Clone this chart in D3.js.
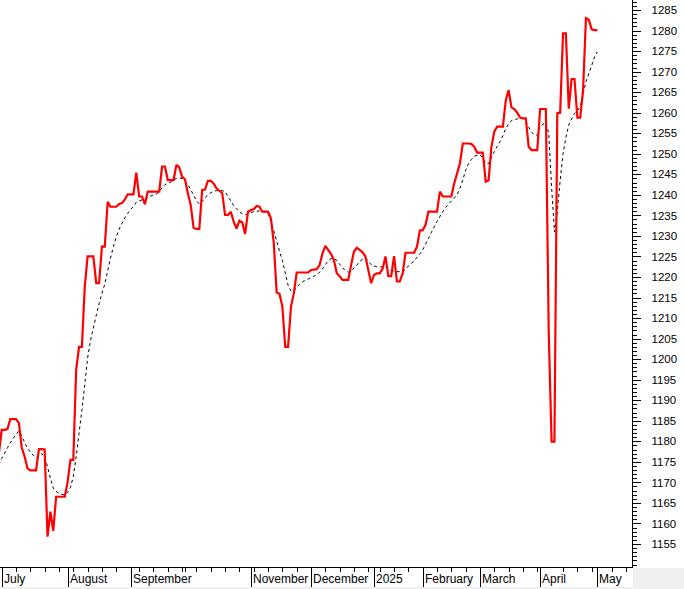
<!DOCTYPE html>
<html><head><meta charset="utf-8">
<script src="https://cdn.jsdelivr.net/npm/d3@7"></script>
<style>html,body{margin:0;padding:0;background:#fff;} svg{display:block;}</style>
</head><body><svg id="chart" width="684" height="589"></svg>
<script>
// ---------- data ----------
const startDate = "2024-06-28";
const axisEndDate = "2025-05-31";
const holidays = ["2024-09-02","2024-09-03","2025-01-01","2025-01-27","2025-01-28","2025-01-29","2025-01-30","2025-01-31","2025-04-07","2025-04-30","2025-05-01","2025-05-02"];
const monthLabels = ["2025","February","March","April","May","June","July","August","September","October","November","December"];
const yTickLabels = [1155,1160,1165,1170,1175,1180,1185,1190,1195,1200,1205,1210,1215,1220,1225,1230,1235,1240,1245,1250,1255,1260,1265,1270,1275,1280,1285];

// daily close, one value per trading day from 2024-06-28
const close = [
  1177.0,1182.8,1182.8,1183.0,1185.4,1185.4,1185.4,1184.5,1178.5,1176.3,1173.4,
  1172.9,1172.9,1172.9,1178.1,1178.1,1178.0,1156.8,1162.9,1158.2,1166.5,
  1166.5,1166.5,1166.5,1170.0,1175.5,1175.5,1197.4,1203.0,1203.0,1217.6,
  1225.0,1225.0,1225.0,1218.5,1218.5,1227.4,1227.4,1238.3,1237.1,1237.1,
  1237.1,1237.8,1238.0,1238.9,1240.1,1240.1,1240.1,1245.4,1239.6,1239.6,
  1237.7,1240.8,1240.8,1240.8,1240.8,1240.8,1246.9,1246.9,1243.6,1243.6,
  1243.6,1247.3,1246.7,1244.4,1243.8,1240.4,1237.5,1232.0,1231.7,1231.7,
  1241.2,1241.3,1243.4,1243.4,1242.8,1241.6,1241.0,1240.4,1235.1,1235.1,
  1235.9,1233.5,1231.8,1233.7,1233.3,1230.5,1235.9,1236.3,1236.5,1237.3,
  1237.1,1235.9,1235.9,1235.9,1234.3,1228.3,1216.2,1215.9,1212.8,1203.0,
  1203.0,1212.8,1216.0,1221.1,1221.1,1221.1,1221.1,1221.1,1221.7,1221.8,
  1221.9,1222.9,1225.7,1227.6,1226.6,1225.6,1224.1,1220.9,1220.2,1219.3,
  1219.3,1219.3,1222.9,1226.2,1227.1,1226.6,1226.0,1225.0,1221.7,1218.5,
  1220.5,1220.9,1220.9,1222.0,1225.0,1220.2,1220.2,1225.1,1218.9,1218.9,
  1220.9,1225.9,1225.9,1225.9,1225.9,1227.4,1231.3,1231.4,1232.7,1235.9,
  1235.9,1235.9,1235.9,1240.8,1239.6,1239.6,1239.6,1239.6,1242.8,1245.2,
  1247.7,1252.5,1252.5,1252.5,1252.4,1251.7,1250.3,1250.3,1250.3,1243.2,
  1243.5,1251.7,1255.4,1256.6,1256.6,1256.6,1263.0,1265.5,1261.3,1260.9,
  1260.0,1258.8,1258.6,1258.6,1251.7,1250.9,1250.9,1250.9,1260.9,1260.9,
  1260.9,1206.7,1179.9,1179.9,1259.9,1260.0,1279.3,1279.3,1261.0,1268.2,
  1268.2,1258.8,1258.8,1265.5,1283.0,1282.6,1280.3,1280.1,1280.1
];
// moving average (dotted line), same trading days
const movingAvg = [
  1174.3,1175.8,1177.1,1178.4,1179.6,1180.7,1181.7,1182.5,1181.2,1179.8,1178.3,
  1177.4,1176.6,1175.9,1176.4,1177.0,1176.2,1173.8,1171.0,1168.6,1167.8,
  1167.3,1167.1,1166.9,1167.6,1168.8,1171.4,1176.3,1181.9,1187.6,1193.8,
  1200.3,1204.5,1207.6,1210.6,1213.5,1216.0,1218.3,1221.5,1224.6,1227.4,
  1229.8,1231.6,1233.1,1234.4,1235.5,1236.4,1237.2,1238.2,1238.5,1238.8,
  1239.0,1239.4,1239.7,1240.0,1240.2,1240.7,1241.8,1242.5,1242.8,1243.1,
  1243.6,1244.0,1244.1,1244.0,1243.3,1242.5,1241.3,1239.9,1238.6,1237.8,
  1238.4,1239.2,1240.1,1240.5,1240.9,1241.0,1241.1,1241.0,1240.8,1239.6,
  1238.5,1237.4,1236.6,1235.9,1235.4,1235.1,1235.4,1235.7,1235.9,1236.0,
  1236.1,1236.0,1235.8,1235.5,1233.5,1231.3,1228.8,1226.3,1224.0,1221.0,
  1218.0,1216.6,1216.6,1217.6,1218.2,1218.8,1219.2,1219.5,1219.9,1220.2,
  1220.5,1221.2,1222.0,1223.0,1223.9,1224.5,1224.4,1224.1,1223.1,1222.3,
  1221.5,1221.2,1221.3,1222.2,1222.9,1223.8,1224.3,1224.6,1223.9,1223.0,
  1222.7,1222.5,1222.4,1222.5,1222.5,1221.8,1221.6,1221.4,1221.3,1221.3,
  1221.3,1221.8,1222.7,1223.3,1223.9,1224.8,1225.6,1226.6,1228.0,1229.4,
  1230.8,1232.2,1233.5,1234.7,1235.9,1236.9,1237.8,1238.5,1239.2,1240.0,
  1241.6,1243.6,1246.0,1247.6,1248.6,1249.4,1249.6,1249.7,1249.0,1247.6,
  1247.6,1249.2,1250.5,1251.8,1253.0,1254.4,1256.2,1257.2,1258.1,1258.3,
  1258.5,1258.6,1258.6,1257.9,1256.5,1255.3,1254.6,1254.5,1256.6,1257.2,
  1257.6,1255.0,1242.0,1231.0,1236.0,1243.5,1250.0,1254.0,1257.0,1258.5,
  1259.8,1260.4,1261.5,1264.5,1267.5,1269.5,1271.5,1273.6,1274.8
];

// ---------- layout ----------
const W = 684, H = 589;
const plotRight = 632.5, plotBottom = 567.5;
const svg = d3.select("#chart");
const FONT = "'Liberation Sans', Arial, sans-serif";

svg.append("rect").attr("x",0).attr("y",0).attr("width",W).attr("height",H).attr("fill","#fff");
svg.append("rect").attr("x",0).attr("y",587).attr("width",W).attr("height",H-587).attr("fill","#f0f0f0");
svg.append("rect").attr("x",633).attr("y",568).attr("width",W-633).attr("height",H-568).attr("fill","#f0f0f0");

// trading calendar
const hol = new Set(holidays);
const fmt = d3.utcFormat("%Y-%m-%d");
const days = d3.utcDays(new Date(startDate+"T00:00Z"), new Date(axisEndDate+"T00:00Z"))
  .filter(d => d.getUTCDay() % 6 !== 0 && !hol.has(fmt(d)));

const x = d3.scaleLinear().domain([1, 209]).range([1.7, 597.4]);
const y = d3.scaleLinear().domain([1155, 1285]).range([544, 10]);

// clip
svg.append("clipPath").attr("id","clip").append("rect")
  .attr("x",0).attr("y",0).attr("width",plotRight).attr("height",plotBottom);

const g = svg.append("g").attr("clip-path","url(#clip)");

const line = d3.line().x((d,i)=>x(i)).y(d=>y(d));
g.append("path").datum(movingAvg).attr("d",line)
  .attr("fill","none").attr("stroke","#000").attr("stroke-width",1)
  .attr("stroke-dasharray","3,3");

g.append("path").datum(close).attr("d",line)
  .attr("fill","none").attr("stroke","#ff0000").attr("stroke-width",2.2)
  .attr("stroke-linejoin","miter").attr("stroke-miterlimit",2);

// ---------- right axis ----------
const minorY = d3.range(Math.ceil(y.invert(plotBottom)), Math.floor(y.invert(0))+1);
const yMinor = d3.axisRight(y).tickValues(minorY).tickSize(4).tickFormat("");
const gyMin = svg.append("g").attr("transform",`translate(${plotRight},0)`).call(yMinor);
gyMin.select(".domain").remove();
const yMajor = d3.axisRight(y).tickValues(yTickLabels).tickSize(8).tickPadding(11).tickFormat(d3.format("d"));
const gyMaj = svg.append("g").attr("transform",`translate(${plotRight},0)`).call(yMajor);
gyMaj.select(".domain").remove();
svg.selectAll(".tick line").attr("stroke","#000").attr("shape-rendering","crispEdges");
gyMaj.selectAll("text").attr("font-family",FONT).attr("font-size","11.5px").attr("fill","#000");

svg.append("line").attr("x1",plotRight).attr("x2",plotRight).attr("y1",0).attr("y2",plotBottom)
  .attr("stroke","#000").attr("shape-rendering","crispEdges");

// ---------- bottom axis ----------
svg.append("line").attr("x1",0).attr("x2",plotRight).attr("y1",plotBottom).attr("y2",plotBottom)
  .attr("stroke","#000").attr("shape-rendering","crispEdges");

const gx = svg.append("g");
const minorTick = px => gx.append("line").attr("x1",px).attr("x2",px)
  .attr("y1",plotBottom).attr("y2",plotBottom+4.5).attr("stroke","#000").attr("shape-rendering","crispEdges");
const monthStarts = [];
days.forEach((d,p) => {
  if (p === 0) return;
  const px = x(p);
  if (px > plotRight - 1) return;
  if (d.getUTCMonth() !== days[p-1].getUTCMonth()) monthStarts.push({p, d});
  else if (d.getUTCDay() === 1) minorTick(Math.round(px)+0.5);
});
let lastEnd = -Infinity;
monthStarts.forEach(({p,d}) => {
  const px = Math.round(x(p)) + 0.5;
  if (px + 1.5 < lastEnd + 1) { minorTick(px); return; }
  gx.append("line").attr("x1",px).attr("x2",px).attr("y1",plotBottom).attr("y2",587)
    .attr("stroke","#000").attr("shape-rendering","crispEdges");
  const t = gx.append("text").attr("x",px+1.5).attr("y",583)
    .attr("font-family",FONT).attr("font-size","12px").attr("fill","#000")
    .text(monthLabels[d.getUTCMonth()]);
  lastEnd = px + 1.5 + t.node().getComputedTextLength();
});
</script></body></html>
